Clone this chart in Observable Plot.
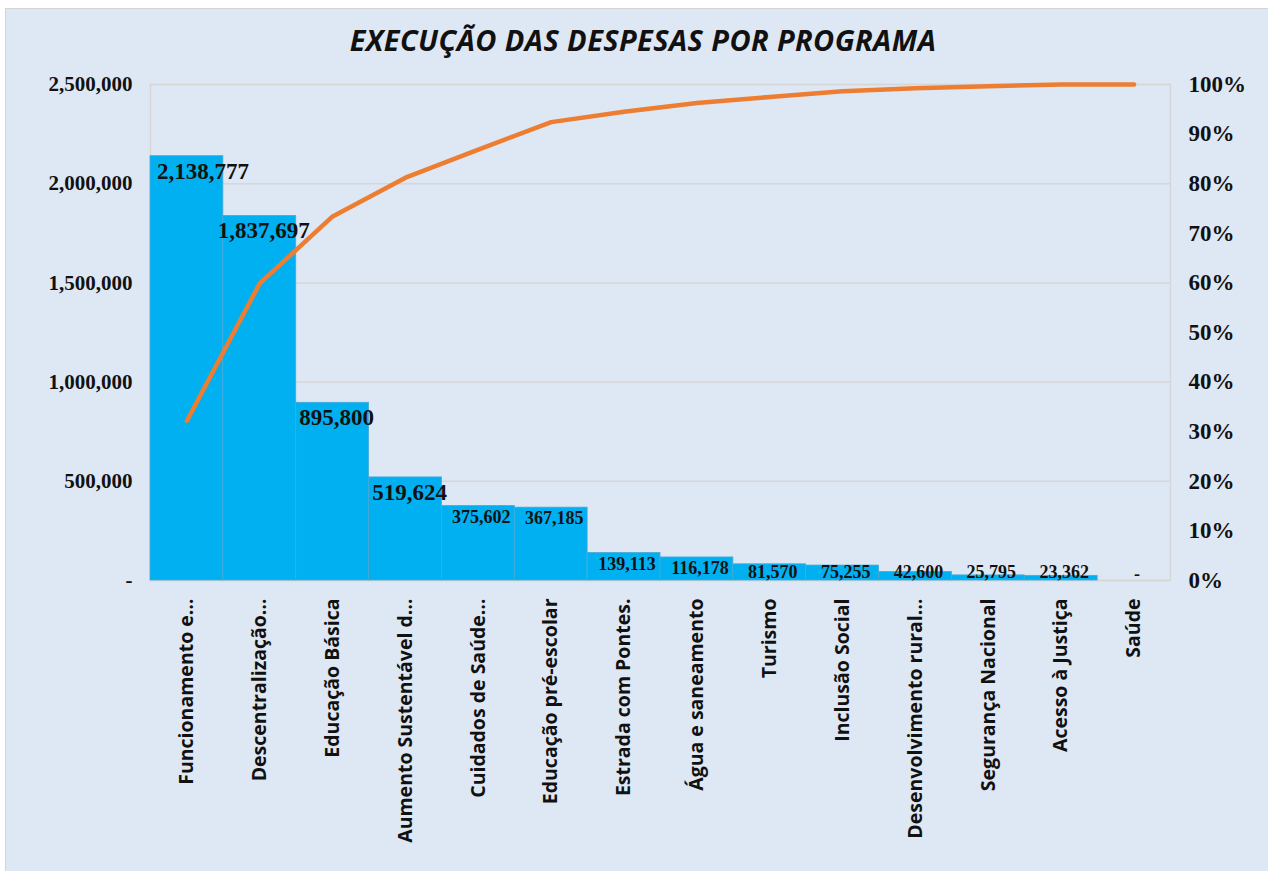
<!DOCTYPE html>
<html>
<head>
<meta charset="utf-8">
<script src="https://cdn.jsdelivr.net/npm/d3@7"></script>
<script src="https://cdn.jsdelivr.net/npm/@observablehq/plot@0.6"></script>
<style>
  html, body { margin: 0; padding: 0; background: #ffffff; }
  body { position: relative; width: 1268px; height: 871px; overflow: hidden; }
  #panel { position: absolute; left: 5px; top: 8px; right: -2px; bottom: -2px; background: #dee8f4; border: 1px solid #d4d4d4; }
  #title { position: absolute; left: 0; width: 1286px; top: 20px; text-align: center;
           font-family: "Liberation Sans Narrow", "Open Sans", sans-serif; font-weight: bold; font-style: italic;
           font-size: 29px; color: #111; letter-spacing: 0.4px; }
  #chart { position: absolute; left: 0; top: 72px; }
</style>
</head>
<body>
<div id="panel"></div>
<div id="title">EXECUÇÃO DAS DESPESAS POR PROGRAMA</div>
<div id="chart"></div>
<script>
const categories = ["Funcionamento e…", "Descentralização…", "Educação Básica", "Aumento Sustentável d…",
  "Cuidados de Saúde…", "Educação pré-escolar", "Estrada com Pontes.", "Água e saneamento", "Turismo",
  "Inclusão Social", "Desenvolvimento rural…", "Segurança Nacional", "Acesso à Justiça", "Saúde"];
const values = [2138777, 1837697, 895800, 519624, 375602, 367185, 139113, 116178, 81570, 75255, 42600, 25795, 23362, 0];
const valueTicks = [0, 500000, 1000000, 1500000, 2000000, 2500000];
const percentTicks = [0, 0.1, 0.2, 0.3, 0.4, 0.5, 0.6, 0.7, 0.8, 0.9, 1.0];
const yMax = 2500000;

const total = d3.sum(values);
let run = 0;
const rows = categories.map((c, i) => {
  run += values[i];
  return {category: c, value: values[i], cum: run / total, index: i};
});

const fmt = d3.format(",");
const serif = "'Liberation Serif', 'Times New Roman', serif";
const bigLabels = rows.filter(d => d.value >= 400000);
const smallLabels = rows.filter(d => d.value > 0 && d.value < 400000);

const chart = Plot.plot({
  width: 1268,
  height: 799,
  marginLeft: 150,
  marginRight: 98,
  marginTop: 12,
  marginBottom: 291,
  style: {background: "transparent", overflow: "visible"},
  x: {domain: categories, padding: 0, round: false, label: null},
  y: {domain: [0, yMax], label: null},
  marks: [
    Plot.gridY(valueTicks, {stroke: "#d6d6d6", strokeOpacity: 1, strokeWidth: 1.5}),
    Plot.frame({stroke: "#d6d6d6", strokeWidth: 1.5}),
    Plot.barY(rows, {x: "category", y: "value", fill: "#00b0f0", stroke: "#4aa9d6", strokeWidth: 0.8, inset: 0}),
    Plot.lineY(rows, {x: "category", y: d => d.cum * yMax, stroke: "#ed7d31", strokeWidth: 4.5,
      strokeLinecap: "round", strokeLinejoin: "round"}),
    Plot.text(bigLabels.filter(d => d.index === 0), {x: "category", y: "value", text: d => fmt(d.value),
      fontFamily: serif, fontWeight: "bold", fontSize: 23, fill: "#111", dx: 16, dy: 15, lineAnchor: "middle"}),
    Plot.text(bigLabels.filter(d => d.index > 0), {x: "category", y: "value", text: d => fmt(d.value),
      fontFamily: serif, fontWeight: "bold", fontSize: 23, fill: "#111", dx: 4, dy: 15, lineAnchor: "middle"}),
    Plot.text(smallLabels, {x: "category", y: d => Math.max(d.value - 55000, 40000), text: d => fmt(d.value),
      fontFamily: serif, fontWeight: "bold", fontSize: 18, fill: "#111", dx: 3, lineAnchor: "middle"}),
    Plot.text(rows.filter(d => d.value === 0), {x: "category", y: "value", text: d => "-",
      fontFamily: serif, fontWeight: "bold", fontSize: 18, fill: "#111", dx: 3, dy: -6, lineAnchor: "middle"}),
    Plot.axisY(valueTicks, {anchor: "left", tickSize: 0, tickPadding: 18,
      tickFormat: d => d === 0 ? "-" : fmt(d),
      fontFamily: serif, fontWeight: "bold", fontSize: 21, fill: "#111", label: null}),
    Plot.axisY(percentTicks.map(p => p * yMax), {anchor: "right", tickSize: 0, tickPadding: 18,
      tickFormat: d => Math.round(d / yMax * 100) + "%",
      fontFamily: serif, fontWeight: "bold", fontSize: 23, fill: "#111", label: null}),
    Plot.axisX({anchor: "bottom", tickSize: 0, tickPadding: 18, tickRotate: -90,
      fontFamily: "'Open Sans', sans-serif", fontWeight: "bold", fontSize: 19.5, fill: "#111", label: null})
  ]
});
document.getElementById("chart").appendChild(chart);
</script>
</body>
</html>
